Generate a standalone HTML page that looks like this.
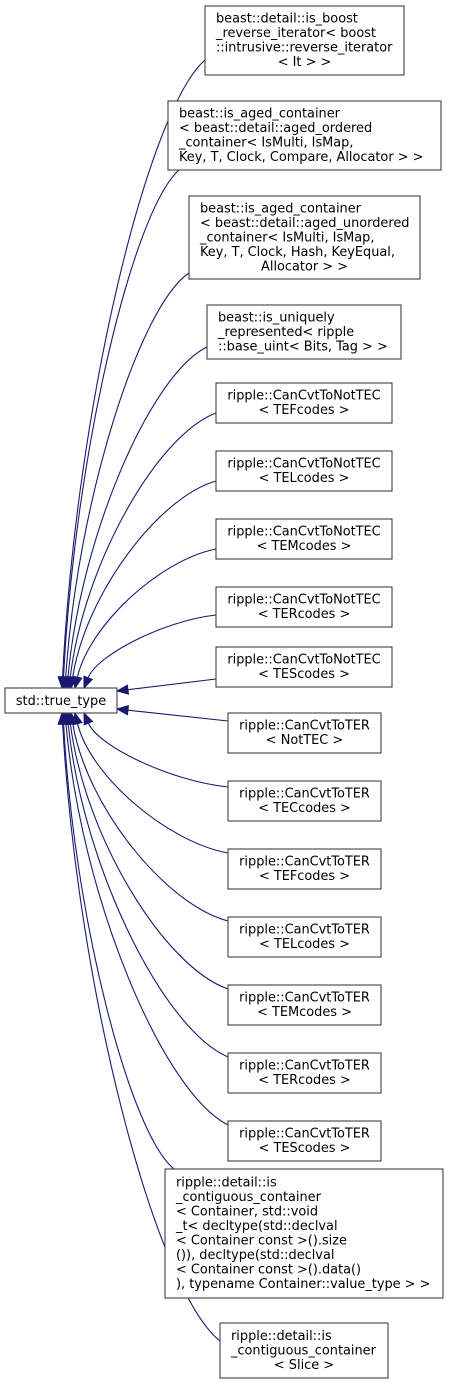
<!DOCTYPE html>
<html><head><meta charset="utf-8"><style>
html,body{margin:0;padding:0;background:#fff;width:449px;height:1385px;overflow:hidden}
svg text{font-family:"DejaVu Sans","Liberation Sans",sans-serif;font-size:12.9px;fill:#000}
</style></head><body>
<svg id="s" width="449" height="1385" xmlns="http://www.w3.org/2000/svg">
<g id="edges" fill="none" stroke="#191970" stroke-width="1.1"></g>
<g id="heads" fill="#191970" stroke="#191970"></g>
<g id="boxes" fill="#fff" stroke="#404040" stroke-width="1.1"></g>
<g id="txt"></g>
</svg>
<script>
const NS="http://www.w3.org/2000/svg";
function el(p,t,a,txt){const e=document.createElementNS(NS,t);for(const k in a)e.setAttribute(k,a[k]);if(txt!=null)e.textContent=txt;document.getElementById(p).appendChild(e);return e;}
const B=[
[205,6,199,69,[["beast::detail::is_boost",0],["_reverse_iterator< boost",0],["::intrusive::reverse_iterator",0],["< It > >",1]],[205,60],[62,688]],
[168,101,273,69,[["beast::is_aged_container",0],["< beast::detail::aged_ordered",0],["_container< IsMulti, IsMap,",0],[" Key, T, Clock, Compare, Allocator > >",0]],[179,170],[63,688]],
[189,196,231,83,[["beast::is_aged_container",0],["< beast::detail::aged_unordered",0],["_container< IsMulti, IsMap,",0],[" Key, T, Clock, Hash, KeyEqual,",0],["Allocator > >",1]],[189,273],[65,688]],
[207,305,194,54,[["beast::is_uniquely",0],["_represented< ripple",0],["::base_uint< Bits, Tag > >",0]],[207,347],[67,688]],
[216,383,176,40,[["ripple::CanCvtToNotTEC",1],["< TEFcodes >",1]],[216,413],[69,688]],
[216,451,176,40,[["ripple::CanCvtToNotTEC",1],["< TELcodes >",1]],[216,481],[71,688]],
[216,519,176,40,[["ripple::CanCvtToNotTEC",1],["< TEMcodes >",1]],[216,549],[75,688]],
[216,587,176,40,[["ripple::CanCvtToNotTEC",1],["< TERcodes >",1]],[216,615],[84,688]],
[216,647,176,40,[["ripple::CanCvtToNotTEC",1],["< TEScodes >",1]],[216,679],[117,691],1],
[228,713,153,40,[["ripple::CanCvtToTER",1],["< NotTEC >",1]],[228,721],[117,709],1],
[228,781,153,40,[["ripple::CanCvtToTER",1],["< TECcodes >",1]],[228,787],[84,713]],
[228,849,153,40,[["ripple::CanCvtToTER",1],["< TEFcodes >",1]],[228,853],[75,713]],
[228,917,153,40,[["ripple::CanCvtToTER",1],["< TELcodes >",1]],[228,921],[71,713]],
[228,985,153,40,[["ripple::CanCvtToTER",1],["< TEMcodes >",1]],[228,989],[69,713]],
[228,1053,153,40,[["ripple::CanCvtToTER",1],["< TERcodes >",1]],[228,1057],[67,713]],
[228,1121,153,40,[["ripple::CanCvtToTER",1],["< TEScodes >",1]],[228,1125],[65,713]],
[165,1169,278,129,[["ripple::detail::is",0],["_contiguous_container",0],["< Container, std::void",0],["_t< decltype(std::declval",0],["< Container const >().size",0],["()), decltype(std::declval",0],["< Container const >().data()",0],["), typename Container::value_type > >",0]],[174,1169],[63,713]],
[220,1323,168,55,[["ripple::detail::is",0],["_contiguous_container",0],["< Slice >",1]],[220,1341],[62,713]],
];
for(const b of B){
 const [x,y,w,h,L,S,T,straight]=b;
 let c1,c2;
 const ddx=S[0]-T[0], ddy=T[1]-S[1];
 if(!straight){c1=[S[0]-ddx*0.4,S[1]+ddy*0.08];c2=[T[0]+ddx*0.1,T[1]-ddy*0.45];}
 let dx,dy;
 if(straight){dx=T[0]-S[0];dy=T[1]-S[1];}else{dx=T[0]-c2[0];dy=T[1]-c2[1];}
 const l=Math.hypot(dx,dy);dx/=l;dy/=l;
 const E=[T[0]-dx*11,T[1]-dy*11];
 if(straight)el("edges","path",{d:`M${S}L${E}`});
 else el("edges","path",{d:`M${S}C${c1} ${c2} ${E}`});
 const px=-dy,py=dx;
 el("heads","polygon",{points:`${T} ${E[0]+px*4.5},${E[1]+py*4.5} ${E[0]-px*4.5},${E[1]-py*4.5}`});
 el("boxes","rect",{x,y,width:w,height:h});
 const n=L.length, lh=14.5, top=y+(h-n*lh)/2;
 L.forEach((ln,i)=>{
  const ty=top+lh*i+11;
  if(ln[1])el("txt","text",{x:x+w/2,y:ty,"text-anchor":"middle"},ln[0]);
  else el("txt","text",{x:x+11,y:ty,"xml:space":"preserve"},ln[0]);
 });
}
el("boxes","rect",{x:5,y:688,width:112,height:25});
el("txt","text",{x:61,y:705,"text-anchor":"middle"},"std::true_type");
</script>
</body></html>
